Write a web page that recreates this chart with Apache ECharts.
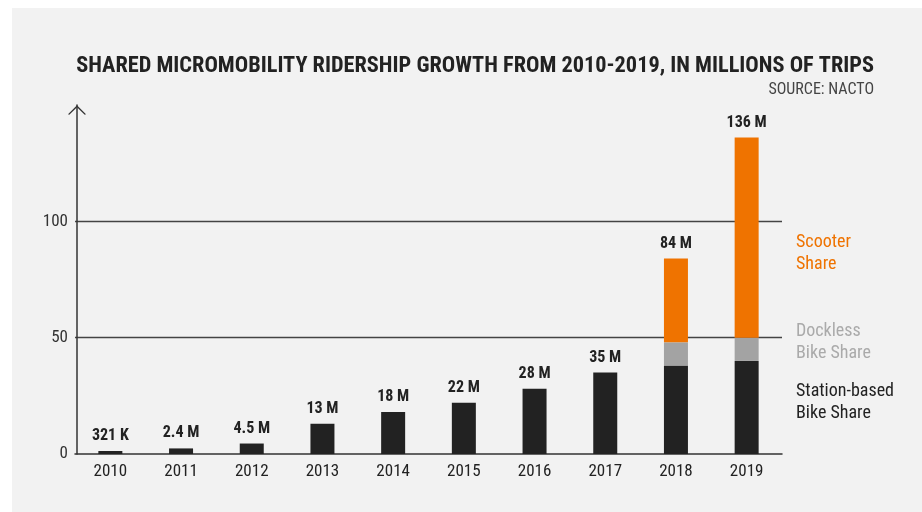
<!DOCTYPE html>
<html>
<head>
<meta charset="utf-8">
<script src="https://cdn.jsdelivr.net/npm/echarts@6/dist/echarts.min.js"></script>
<style>
html,body{margin:0;padding:0;background:#ffffff;}
#wrap{position:absolute;left:12px;top:8px;width:910px;height:504px;background:#f2f2f2;}
#chart{position:absolute;left:0;top:0;width:922px;height:512px;}
</style>
</head>
<body>
<div id="wrap"></div>
<div id="chart"></div>
<script>
const years = ['2010','2011','2012','2013','2014','2015','2016','2017','2018','2019'];
const stationBased = [0.321, 2.4, 4.5, 13, 18, 22, 28, 35, 38, 40];
const dockless = [null, null, null, null, null, null, null, null, 10, 10];
const scooter = [null, null, null, null, null, null, null, null, 36, 86];
const totalLabels = ['321 K','2.4 M','4.5 M','13 M','18 M','22 M','28 M','35 M','84 M','136 M'];
const yTicks = [0, 50, 100, 150];

const FONT = '"Roboto Condensed","Liberation Sans Narrow",Roboto,sans-serif';
const ORANGE = '#ef7300', GREY = '#a3a3a3', BLACK = '#222222';

const labelStyle = {
  position: 'top', distance: 7, fontFamily: FONT, fontWeight: 'bold',
  fontSize: 16, color: '#222'
};

const chart = echarts.init(document.getElementById('chart'), null, {renderer: 'canvas'});
chart.setOption({
  backgroundColor: 'transparent',
  animation: false,
  title: [{
    text: 'SHARED MICROMOBILITY RIDERSHIP GROWTH FROM 2010-2019, IN MILLIONS OF TRIPS',
    right: 43, top: 50,
    textStyle: {fontFamily: FONT, fontWeight: 'bold', fontSize: 22.3, color: '#222'}
  }, {
    text: 'SOURCE: NACTO',
    right: 43, top: 77,
    textStyle: {fontFamily: FONT, fontWeight: 'normal', fontSize: 16, color: '#444'}
  }],
  grid: {left: 75, right: 140, top: 105, bottom: 58, containLabel: false},
  xAxis: {
    type: 'category', data: years,
    axisTick: {show: false},
    axisLine: {lineStyle: {color: '#333', width: 1.5}},
    axisLabel: {fontFamily: FONT, fontSize: 17, color: '#222', margin: 9}
  },
  yAxis: {
    type: 'value', min: 0, max: 150, interval: 50, offset: -2,
    axisLine: {show: true, lineStyle: {color: '#333', width: 1.5},
      symbol: ['none', 'path://M0,10 L10,0 L20,10 L18.6,10.8 L10,2.4 L1.4,10.8 Z'],
      symbolSize: [18, 10], symbolOffset: [0, -5]},
    axisTick: {show: false},
    splitLine: {show: true, showMinLine: false, showMaxLine: false, lineStyle: {color: '#444', width: 1.3}},
    axisLabel: {fontFamily: FONT, fontSize: 17, color: '#333', margin: 9, showMaxLabel: false,
      formatter: v => yTicks.indexOf(v) >= 0 && v !== 150 ? String(v) : ''}
  },
  series: [{
    name: 'Station-based Bike Share', type: 'bar', stack: 'total', barWidth: 24, barMinHeight: 3,
    itemStyle: {color: BLACK},
    data: stationBased.map((v, i) => ({value: v, label: Object.assign({show: scooter[i] == null, formatter: totalLabels[i]}, labelStyle)}))
  }, {
    name: 'Dockless Bike Share', type: 'bar', stack: 'total', barWidth: 24,
    itemStyle: {color: GREY},
    data: dockless
  }, {
    name: 'Scooter Share', type: 'bar', stack: 'total', barWidth: 24,
    itemStyle: {color: ORANGE},
    data: scooter.map((v, i) => ({value: v, label: Object.assign({show: v != null, formatter: totalLabels[i]}, labelStyle)}))
  }],
  graphic: [
    {type: 'text', left: 796, top: 231, style: {text: 'Scooter\nShare', fill: ORANGE, fontFamily: FONT, fontSize: 18, lineHeight: 22}},
    {type: 'text', left: 796, top: 320, style: {text: 'Dockless\nBike Share', fill: '#aaaaaa', fontFamily: FONT, fontSize: 18, lineHeight: 22}},
    {type: 'text', left: 796, top: 380, style: {text: 'Station-based\nBike Share', fill: '#222', fontFamily: FONT, fontSize: 18, lineHeight: 22}}
  ]
});
</script>
</body>
</html>
